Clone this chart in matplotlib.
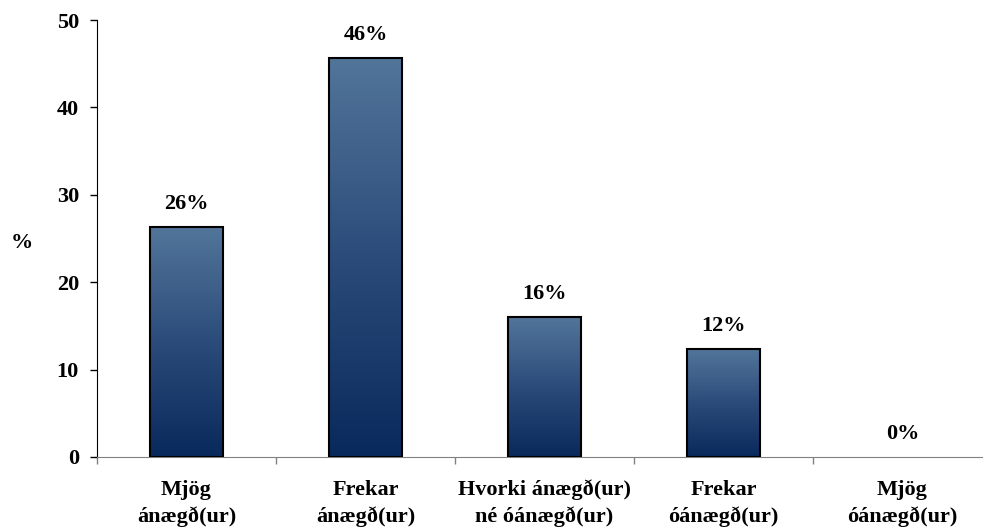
import matplotlib.pyplot as plt
import matplotlib.colors as mcolors
import numpy as np

categories = ["Mjög\nánægð(ur)", "Frekar\nánægð(ur)", "Hvorki ánægð(ur)\nné óánægð(ur)",
              "Frekar\nóánægð(ur)", "Mjög\nóánægð(ur)"]
values = [26.3, 45.6, 16.0, 12.3, 0.0]
labels = ["26%", "46%", "16%", "12%", "0%"]
yticks = [0, 10, 20, 30, 40, 50]

plt.rcParams['font.family'] = ['Liberation Serif', 'DejaVu Serif']
plt.rcParams['font.weight'] = 'bold'
FS = 16

fig = plt.figure(figsize=(9.83, 5.28), dpi=100)
ax = fig.add_axes([97 / 983, 71 / 528, 895 / 983, 437 / 528])

x = np.arange(len(categories))
lw = [1.5 if v > 0 else 0 for v in values]
bars = ax.bar(x, values, width=0.41, color='none', edgecolor='black', linewidth=lw, zorder=3)

# vertical gradient inside each bar
cmap = mcolors.LinearSegmentedColormap.from_list('bar', ['#08295b', '#2b4c7a', '#52759a'])
grad = np.linspace(0, 1, 256).reshape(-1, 1)
for b in bars:
    if b.get_height() <= 0:
        continue
    x0, y0 = b.get_x(), b.get_y()
    im = ax.imshow(grad, cmap=cmap, origin='lower', aspect='auto',
                   extent=[x0, x0 + b.get_width(), y0, y0 + b.get_height()], zorder=2)
    im.set_clip_path(b)

for xi, v, lab in zip(x, values, labels):
    ax.annotate(lab, (xi, v), xytext=(0, 13), textcoords='offset points',
                ha='center', va='baseline', fontsize=FS, fontweight='bold')

# category labels, one text per line so the lines stay level
for xi, cat in zip(x, categories):
    for k, line in enumerate(cat.split('\n')):
        ax.annotate(line, (xi, 0), xytext=(0, -27.5 - 19 * k), textcoords='offset points',
                    ha='center', va='baseline', fontsize=FS, fontweight='bold',
                    annotation_clip=False)

ax.set_xlim(-0.5, len(categories) - 0.5)
ax.set_ylim(0, 50)
ax.set_yticks(yticks)
ax.set_yticklabels([str(t) for t in yticks], fontsize=FS, fontweight='bold')
ax.tick_params(axis='y', direction='out', length=5, width=1, pad=8)

ax.set_xticks([])
ax.set_xticks(np.arange(-0.5, len(categories), 1.0), minor=True)
ax.tick_params(axis='x', which='minor', direction='out', length=5, width=1, color='#808080')

for s in ['top', 'right']:
    ax.spines[s].set_visible(False)
ax.spines['bottom'].set_color('#808080')
ax.spines['left'].set_color('black')

fig.text(22 / 983, 1 - 243 / 528, '%', fontsize=FS, fontweight='bold', ha='center', va='center')

fig.savefig('out.png', dpi=100)
